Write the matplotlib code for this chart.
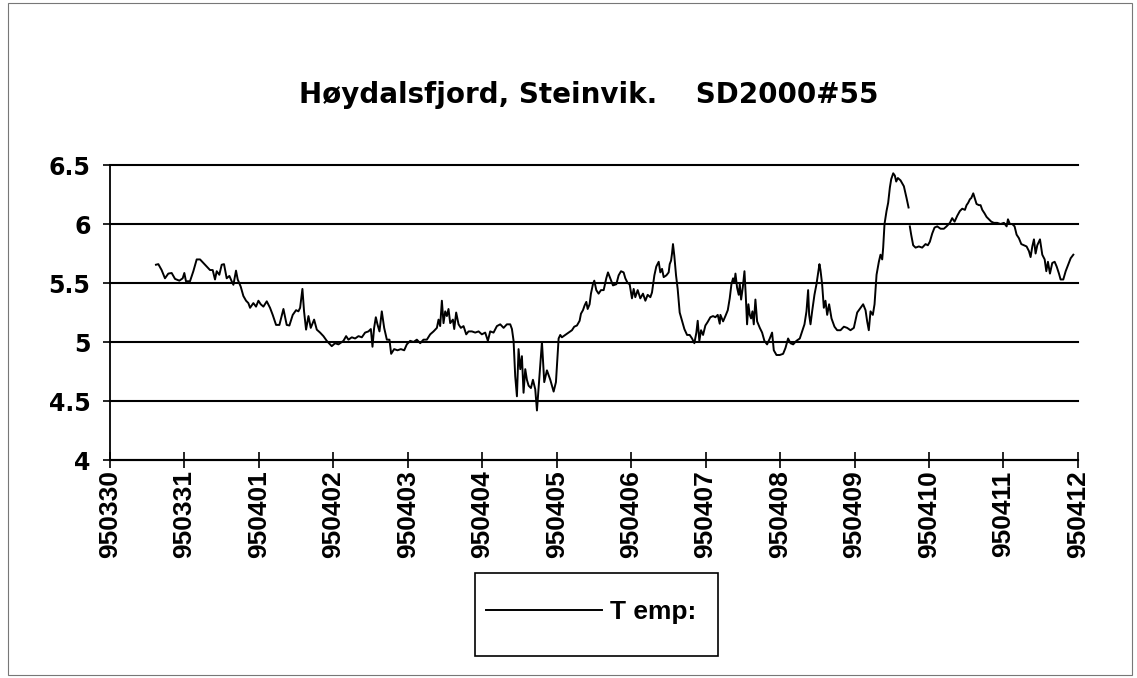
import numpy as np
import matplotlib
matplotlib.use("Agg")
import matplotlib.pyplot as plt
from matplotlib.patches import Rectangle
from matplotlib.font_manager import fontManager

# Tid i dager etter 950330 (tick-indeks), temperatur i grader
days_a = [0.618, 0.650, 0.694, 0.739, 0.784, 0.829, 0.874, 0.932, 0.977, 0.999,
          1.021, 1.075, 1.120, 1.165, 1.210, 1.254, 1.299, 1.344, 1.380, 1.411,
          1.434, 1.469, 1.501, 1.532, 1.568, 1.604, 1.635, 1.658, 1.693, 1.716,
          1.756, 1.792, 1.828, 1.859, 1.882, 1.926, 1.962, 1.994, 2.025, 2.061,
          2.106, 2.150, 2.186, 2.231, 2.276, 2.330, 2.374, 2.410, 2.455, 2.500,
          2.531, 2.554, 2.585, 2.607, 2.634, 2.666, 2.697, 2.742, 2.778, 2.822,
          2.867, 2.912, 2.979, 3.024, 3.069]
temp_a = [5.655, 5.66, 5.61, 5.54, 5.58, 5.585, 5.535, 5.52, 5.54, 5.585,
          5.515, 5.515, 5.6, 5.70, 5.70, 5.67, 5.64, 5.61, 5.61, 5.53,
          5.6, 5.57, 5.655, 5.66, 5.54, 5.56, 5.515, 5.485, 5.605, 5.53,
          5.47, 5.39, 5.35, 5.33, 5.29, 5.33, 5.30, 5.35, 5.32, 5.30,
          5.345, 5.29, 5.23, 5.145, 5.145, 5.28, 5.145, 5.14, 5.23, 5.27,
          5.26, 5.29, 5.45, 5.26, 5.105, 5.22, 5.12, 5.19, 5.105, 5.08,
          5.05, 5.01, 4.965, 4.99, 4.98]

days_b = [3.091, 3.136, 3.172, 3.203, 3.248, 3.293, 3.338, 3.383, 3.427, 3.472,
          3.504, 3.526, 3.548, 3.571, 3.593, 3.620, 3.651, 3.683, 3.719, 3.754,
          3.777, 3.817, 3.862, 3.907, 3.952, 3.987, 4.032, 4.077, 4.122, 4.167,
          4.211, 4.256, 4.301, 4.346, 4.391, 4.413, 4.435, 4.458, 4.480, 4.503,
          4.525, 4.547, 4.570, 4.606, 4.624, 4.650, 4.682, 4.713, 4.749, 4.785,
          4.816, 4.861, 4.906, 4.951, 4.995, 5.040, 5.076, 5.107, 5.152, 5.197,
          5.242, 5.287, 5.331, 5.376, 5.399, 5.421, 5.443, 5.466, 5.488, 5.511,
          5.533, 5.555, 5.578, 5.600, 5.623, 5.654, 5.681, 5.712, 5.735,
          5.802, 5.833, 5.869, 5.914, 5.959, 5.990, 6.026, 6.048]
temp_b = [4.99, 5.01, 5.05, 5.02, 5.04, 5.03, 5.05, 5.04, 5.08, 5.09,
          5.11, 4.96, 5.12, 5.21, 5.15, 5.09, 5.26, 5.12, 5.02, 5.02,
          4.90, 4.94, 4.93, 4.94, 4.93, 4.98, 5.01, 5.0, 5.02, 4.99,
          5.02, 5.02, 5.065, 5.09, 5.12, 5.19, 5.135, 5.35, 5.16, 5.26,
          5.22, 5.28, 5.16, 5.19, 5.11, 5.25, 5.15, 5.12, 5.135, 5.065,
          5.09, 5.09, 5.08, 5.09, 5.065, 5.08, 5.01, 5.09, 5.08, 5.135,
          5.15, 5.12, 5.15, 5.15, 5.11, 5.01, 4.71, 4.54, 4.94, 4.77,
          4.88, 4.57, 4.77, 4.68, 4.63, 4.61, 4.68, 4.60, 4.42,
          5.0, 4.66, 4.76, 4.68, 4.58, 4.66, 5.03, 5.06]

days_c = [6.070, 6.115, 6.160, 6.205, 6.236, 6.272, 6.308, 6.326, 6.353, 6.375,
          6.398, 6.416, 6.442, 6.460, 6.487, 6.505, 6.532, 6.563, 6.595, 6.631,
          6.666, 6.689, 6.720, 6.756, 6.801, 6.832, 6.864, 6.899, 6.922, 6.953,
          6.980, 7.011, 7.034, 7.056, 7.088, 7.123, 7.159, 7.191, 7.222, 7.258,
          7.280, 7.312, 7.338, 7.370, 7.392, 7.415, 7.437, 7.473, 7.504, 7.518,
          7.536, 7.549, 7.562, 7.580, 7.603, 7.625, 7.652, 7.683, 7.715, 7.751,
          7.786, 7.818, 7.849, 7.876, 7.894, 7.916, 7.939, 7.966, 7.997, 8.028,
          8.064, 8.100, 8.131, 8.163, 8.190]
temp_c = [5.04, 5.06, 5.08, 5.10, 5.13, 5.14, 5.18, 5.24, 5.27, 5.31,
          5.34, 5.28, 5.32, 5.41, 5.49, 5.52, 5.44, 5.41, 5.44, 5.44,
          5.54, 5.59, 5.54, 5.48, 5.49, 5.565, 5.60, 5.59, 5.54, 5.50,
          5.49, 5.37, 5.45, 5.38, 5.44, 5.37, 5.41, 5.35, 5.40, 5.38,
          5.42, 5.565, 5.64, 5.68, 5.59, 5.62, 5.55, 5.565, 5.59, 5.66,
          5.69, 5.75, 5.83, 5.73, 5.565, 5.45, 5.25, 5.18, 5.11, 5.06,
          5.06, 5.03, 4.99, 5.08, 5.18, 5.01, 5.10, 5.06, 5.14, 5.17,
          5.21, 5.22, 5.21, 5.23, 5.155]

days_d = [8.199, 8.235, 8.266, 8.298, 8.324, 8.347, 8.369, 8.387, 8.401, 8.423,
          8.445, 8.459, 8.477, 8.499, 8.522, 8.539, 8.557, 8.575, 8.593, 8.611,
          8.629, 8.647, 8.669, 8.692, 8.728, 8.759, 8.790, 8.826, 8.862, 8.893,
          8.916, 8.952, 8.996, 9.041, 9.073, 9.108, 9.140, 9.176, 9.220, 9.265,
          9.297, 9.328, 9.355, 9.377, 9.391, 9.409, 9.431, 9.462, 9.489, 9.512,
          9.529, 9.543, 9.565, 9.588, 9.610, 9.633, 9.659, 9.691, 9.731, 9.767,
          9.812, 9.857, 9.901, 9.946, 9.991, 10.036, 10.081, 10.116, 10.148, 10.170,
          10.192, 10.215, 10.246, 10.269, 10.296, 10.327, 10.349, 10.372, 10.385, 10.403,
          10.430, 10.452, 10.475, 10.493, 10.520, 10.542, 10.560, 10.582,
          10.618, 10.663, 10.699, 10.726]
temp_d = [5.23, 5.175, 5.22, 5.27, 5.37, 5.49, 5.54, 5.50, 5.58, 5.46,
          5.40, 5.49, 5.36, 5.46, 5.60, 5.40, 5.15, 5.32, 5.23, 5.20,
          5.26, 5.15, 5.36, 5.175, 5.12, 5.08, 5.01, 4.98, 5.03, 5.08,
          4.93, 4.89, 4.89, 4.90, 4.95, 5.03, 4.99, 4.98, 5.01, 5.03,
          5.09, 5.15, 5.26, 5.44, 5.23, 5.15, 5.26, 5.40, 5.49, 5.59,
          5.66, 5.61, 5.49, 5.29, 5.35, 5.23, 5.32, 5.20, 5.13, 5.10,
          5.10, 5.13, 5.12, 5.10, 5.12, 5.25, 5.29, 5.32, 5.27, 5.175,
          5.10, 5.26, 5.23, 5.32, 5.57, 5.68, 5.74, 5.70, 5.80, 6.00,
          6.11, 6.18, 6.31, 6.38, 6.43, 6.41, 6.36, 6.39,
          6.37, 6.32, 6.22, 6.14]

# etter bruddet i serien
days_e = [10.743, 10.761, 10.788, 10.820, 10.864, 10.909, 10.954, 10.985, 11.012, 11.044,
          11.075, 11.111, 11.156, 11.200, 11.236, 11.281, 11.312, 11.344, 11.380, 11.415,
          11.447, 11.483, 11.505, 11.527, 11.550, 11.568, 11.595, 11.639, 11.671, 11.693,
          11.716, 11.747, 11.774, 11.805, 11.837, 11.872, 11.917, 11.962, 12.007, 12.043,
          12.061, 12.087, 12.119, 12.150, 12.177, 12.208, 12.240, 12.276, 12.311, 12.343,
          12.365, 12.388, 12.410, 12.432, 12.455, 12.491, 12.522, 12.554, 12.576, 12.598,
          12.625, 12.656, 12.688, 12.715, 12.746, 12.768, 12.804, 12.836, 12.867, 12.903,
          12.939]
temp_e = [5.98, 5.91, 5.82, 5.80, 5.81, 5.80, 5.83, 5.82, 5.85, 5.92,
          5.97, 5.98, 5.96, 5.96, 5.98, 6.01, 6.05, 6.02, 6.07, 6.11,
          6.13, 6.12, 6.16, 6.18, 6.21, 6.22, 6.26, 6.17, 6.16, 6.16,
          6.12, 6.09, 6.06, 6.04, 6.02, 6.01, 6.01, 6.00, 6.01, 5.98,
          6.04, 6.00, 6.00, 5.98, 5.91, 5.88, 5.83, 5.82, 5.81, 5.77,
          5.72, 5.81, 5.87, 5.75, 5.82, 5.87, 5.74, 5.70, 5.60, 5.68,
          5.58, 5.67, 5.68, 5.64, 5.58, 5.53, 5.53, 5.60, 5.65, 5.71,
          5.74]

date_labels = ["950330", "950331", "950401", "950402", "950403", "950404", "950405",
               "950406", "950407", "950408", "950409", "950410", "950411", "950412"]
y_ticks = [4, 4.5, 5, 5.5, 6, 6.5]
y_labels = ["4", "4.5", "5", "5.5", "6", "6.5"]

days = np.concatenate([days_a, days_b, days_c, days_d, [np.nan], days_e])
temp = np.concatenate([temp_a, temp_b, temp_c, temp_d, [np.nan], temp_e])

# smal skrift til datoene hvis den finnes
names = {f.name for f in fontManager.ttflist}
has_narrow = "Liberation Sans Narrow" in names
narrow = "Liberation Sans Narrow" if has_narrow else "Liberation Sans"

fig = plt.figure(figsize=(11.37, 6.78), dpi=100)
ax = fig.add_axes([0.0967, 0.3215, 0.8513, 0.4351])

line, = ax.plot(days, temp, color="black", lw=1.4, label="T emp:")

ax.set_xlim(0, len(date_labels) - 1)
ax.set_ylim(4, 6.5)
ax.set_yticks(y_ticks)
ax.set_yticklabels(y_labels, fontsize=17, fontweight="bold", family="DejaVu Sans")
ax.set_xticks(np.arange(len(date_labels)))
ax.set_xticklabels(date_labels, rotation=90, fontsize=22 if has_narrow else 19,
                   fontweight="bold", family=narrow)
ax.tick_params(axis="y", direction="out", length=5, width=1.2, pad=9)
ax.tick_params(axis="x", direction="inout", length=11, width=1.2, pad=2)

ax.grid(axis="y", color="black", lw=1.5)
for gl in ax.get_ygridlines():
    gl.set_clip_on(False)
ax.set_axisbelow(True)
for s in ["top", "right"]:
    ax.spines[s].set_visible(False)
ax.spines["left"].set_linewidth(1.3)
ax.spines["bottom"].set_linewidth(1.5)

fig.text(0.518, 0.86, "Høydalsfjord, Steinvik.    SD2000#55", ha="center", va="center",
         fontsize=20, fontweight="bold", family="DejaVu Sans")

# legendeboks
fig.patches.append(Rectangle((0.4178, 0.0324), 0.2137, 0.1224, transform=fig.transFigure,
                             fill=False, edgecolor="black", lw=1.2))
leg = fig.legend(handles=[line], loc="center", bbox_to_anchor=(0.52, 0.097),
                 handlelength=4.4, handletextpad=0.3, frameon=False,
                 prop={"family": narrow, "weight": "bold", "size": 19})

# ramme rundt hele figuren
fig.patches.append(Rectangle((0.007, 0.004), 0.989, 0.992, transform=fig.transFigure,
                             fill=False, edgecolor="#777777", lw=0.8))

fig.savefig("out.png", dpi=100)
